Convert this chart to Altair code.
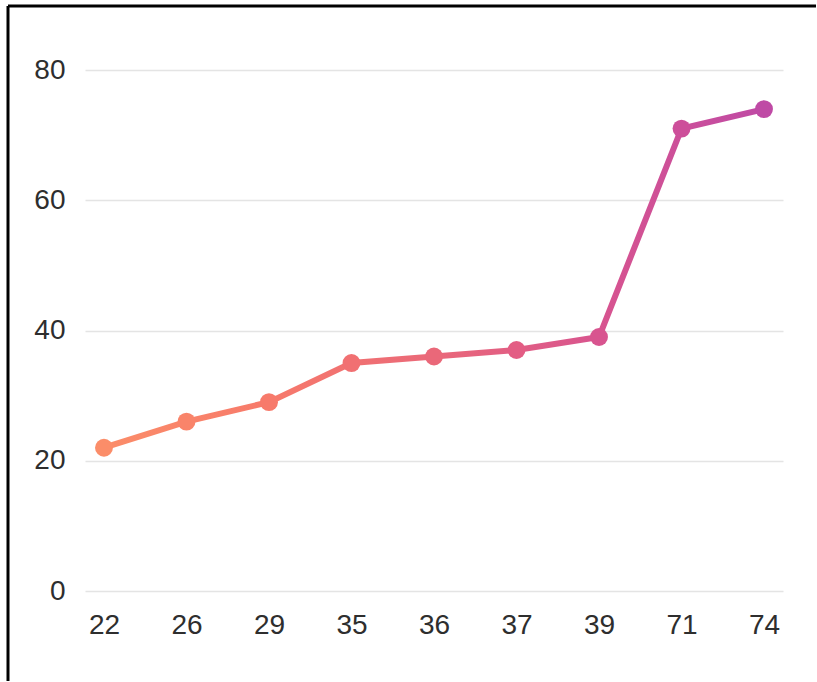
import altair as alt
import pandas as pd

# Category labels along the x axis and their values
categories = ["22", "26", "29", "35", "36", "37", "39", "71", "74"]
values = [22, 26, 29, 35, 36, 37, 39, 71, 74]

# Warm orange-to-purple ramp used for the line and its markers
ramp_colors = ["#fb8d69", "#f77a6b", "#ea6879", "#d8548f", "#bf4aa5"]
ramp_offsets = [0.0, 0.25, 0.5, 0.75, 1.0]

df = pd.DataFrame({
    "cat": categories,
    "value": values,
    "idx": list(range(len(categories))),
})

W, H = 698, 521
PAD_L, PAD_T = 85, 70
FONT = "Liberation Sans"

x_enc = alt.X(
    "cat:N",
    sort=categories,
    scale=alt.Scale(type="point", padding=0.23),
    axis=alt.Axis(
        title=None, labelAngle=0, ticks=False, domain=False, grid=False,
        labelFontSize=28, labelColor="#2e2e2e", labelFont=FONT,
        labelPadding=20,
    ),
)
y_enc = alt.Y(
    "value:Q",
    scale=alt.Scale(domain=[0, 80]),
    axis=alt.Axis(
        title=None, values=[0, 20, 40, 60, 80], ticks=False, domain=False,
        grid=True, gridColor="#e4e4e4", gridWidth=1.5,
        labelFontSize=28, labelColor="#2e2e2e", labelFont=FONT,
        labelPadding=20,
    ),
)

gradient = alt.Gradient(
    gradient="linear",
    stops=[alt.GradientStop(color=c, offset=o) for c, o in zip(ramp_colors, ramp_offsets)],
    x1=0, x2=1, y1=0, y2=0,
)

line = alt.Chart(df).mark_line(stroke=gradient, strokeWidth=6).encode(x=x_enc, y=y_enc)

points = alt.Chart(df).mark_circle(size=320, opacity=1).encode(
    x=x_enc,
    y=y_enc,
    color=alt.Color(
        "idx:Q",
        scale=alt.Scale(domain=[0, 2, 4, 6, 8], range=ramp_colors),
        legend=None,
    ),
)

# Black frame lines along the top and left edges of the page
frame_src = alt.Data(values=[{}])
frame_top = alt.Chart(frame_src).mark_rule(color="black", strokeWidth=3).encode(
    x=alt.value(8 - PAD_L), x2=alt.value(816 - PAD_L), y=alt.value(6 - PAD_T)
)
frame_left = alt.Chart(frame_src).mark_rule(color="black", strokeWidth=3).encode(
    x=alt.value(8 - PAD_L), y=alt.value(6 - PAD_T), y2=alt.value(682 - PAD_T)
)

chart = (
    alt.layer(line, points, frame_top, frame_left)
    .properties(
        width=W,
        height=H,
        autosize=alt.AutoSizeParams(type="none"),
        padding={"left": PAD_L, "top": PAD_T, "right": 816 - PAD_L - W, "bottom": 681 - PAD_T - H},
        background="white",
    )
    .configure_view(stroke=None)
)

chart.save("out.html", embed_options={"renderer": "svg", "actions": False})
